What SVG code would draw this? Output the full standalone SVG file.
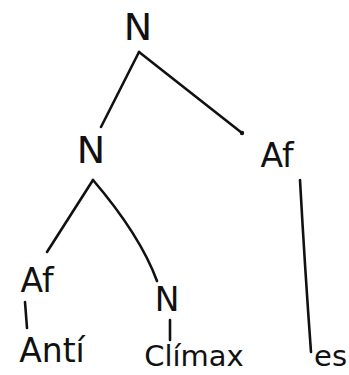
<svg xmlns="http://www.w3.org/2000/svg" width="349" height="375" viewBox="0 0 349 375">
<style>
.t{font-family:"DejaVu Sans","Liberation Sans",sans-serif;fill:#111;text-anchor:middle}
.big{font-size:38px}
.mid{font-size:33px}
.sm{font-size:29px}
.e{stroke:#111;stroke-width:2.6;fill:none;stroke-linecap:round}
</style>
<rect width="349" height="375" fill="#fff"/>
<g id="connectors">
<path class="e" d="M139,52 L101,127"/>
<path class="e" d="M139,52 L242,133"/>
<circle cx="242" cy="133" r="2.2" fill="#111"/>
<path class="e" d="M93,180 L47,252"/>
<path class="e" d="M93,180 Q140,235 157,281"/>
<path class="e" d="M25,302 L27,328"/>
<path class="e" d="M170,320 L170,340"/>
<path class="e" d="M300,180 Q305,270 311,352"/>
</g>
<g id="n-root"><text class="t big" x="138" y="40">N</text></g>
<g id="n-left"><text class="t big" x="91" y="163">N</text></g>
<g id="af-right"><text class="t mid" x="277" y="167">Af</text></g>
<g id="af-left"><text class="t mid" x="37" y="292">Af</text></g>
<g id="n-climax"><text class="t mid" x="167" y="311">N</text></g>
<g id="anti"><text class="t mid" x="52" y="362">Antí</text></g>
<g id="climax"><text class="t sm" x="194" y="366">Clímax</text></g>
<g id="es"><text class="t sm" x="347" y="366" style="text-anchor:end">es</text></g>
</svg>
